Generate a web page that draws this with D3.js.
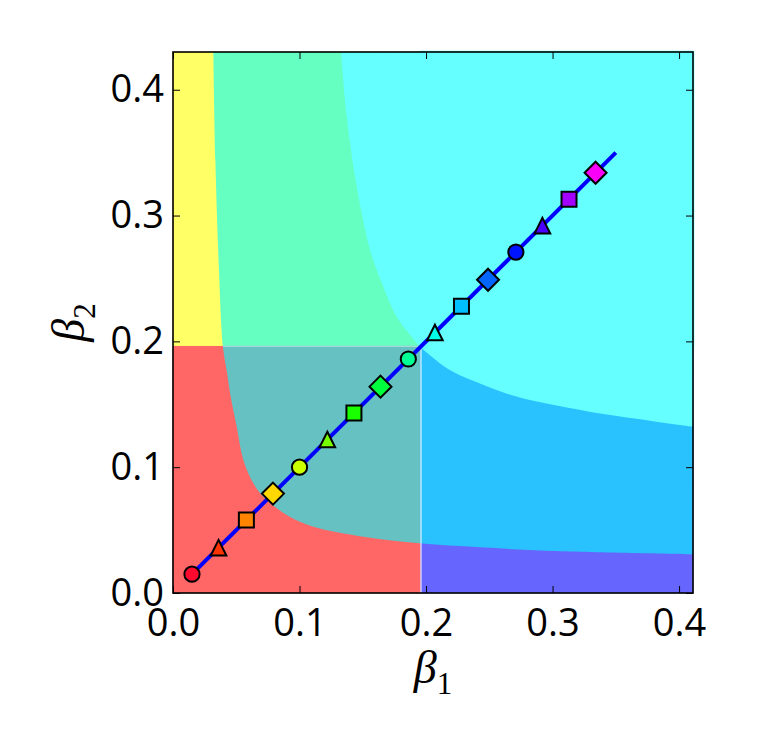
<!DOCTYPE html>
<html>
<head>
<meta charset="utf-8">
<script src="https://cdn.jsdelivr.net/npm/d3@7"></script>
<style>
  html, body { margin: 0; padding: 0; background: #fff; }
  .tick text { font-family: "Open Sans", sans-serif; font-size: 38px; fill: #000; }
</style>
</head>
<body>
<div id="chart"></div>
<script>
// ─── Data ─────────────────────────────────────────────────────────────────────
const beta1Ticks = [0.0, 0.1, 0.2, 0.3, 0.4];
const beta2Ticks = [0.0, 0.1, 0.2, 0.3, 0.4];
const beta1Max = 0.411;
const beta2Max = 0.430;
const split = 0.196;

// lower boundary (yellow|green, red|teal, purple|blue)
const lowerB1 = [0.0319, 0.0335, 0.0362, 0.0395, 0.0427, 0.0451, 0.0503, 0.0556, 0.0635, 0.0714, 0.0899, 0.111, 0.1504, 0.195, 0.243, 0.300, 0.411];
const lowerB2 = [0.430, 0.344, 0.260, 0.1956, 0.175, 0.1588, 0.1323, 0.1058, 0.0872, 0.0766, 0.062, 0.0527, 0.0448, 0.0395, 0.0363, 0.0334, 0.0308];

// upper boundary (green|cyan, blue|cyan)
const upperB1 = [0.1328, 0.1373, 0.1447, 0.1557, 0.165, 0.1768, 0.1926, 0.1955, 0.1988, 0.2195, 0.2465, 0.2728, 0.326, 0.377, 0.411];
const upperB2 = [0.430, 0.3785, 0.326, 0.2728, 0.2465, 0.2195, 0.1988, 0.1955, 0.1926, 0.1768, 0.165, 0.1557, 0.1447, 0.137, 0.1322];

// quadrants, in drawing order: top-left, bottom-left, bottom-right, top-right
const quadB1 = [[0, split], [0, split], [split, beta1Max], [split, beta1Max]];
const quadB2 = [[split, beta2Max], [0, split], [0, split], [split, beta2Max]];
const quadBase = ["#ffff66", "#ff6666", "#6666ff", "#66ffff"];
const quadAboveLower = ["#66ffc2", "#66c2c2", "#29c2ff", "#66ffff"];
const quadAboveUpper = ["#66ffff", "#66c2c2", "#66ffff", "#66ffff"];

// diagonal path and markers
const lineB1 = [0.015, 0.35];
const lineB2 = [0.015, 0.35];
const markerB1 = [0.015, 0.036, 0.058, 0.079, 0.100, 0.122, 0.143, 0.164, 0.186, 0.207, 0.228, 0.249, 0.271, 0.292, 0.313, 0.334];
const markerB2 = [0.015, 0.036, 0.058, 0.079, 0.100, 0.122, 0.143, 0.164, 0.186, 0.207, 0.228, 0.249, 0.271, 0.292, 0.313, 0.334];
const markerShapes = ["circle", "triangle", "square", "diamond"];
const markerColors = ["#ff0a2e", "#ff3300", "#ff8400", "#ffd800", "#ccff00", "#77ff00", "#1aff00", "#00ff3c",
                      "#00ff95", "#00ffe6", "#00bfff", "#0066ff", "#0014ff", "#4a00ff", "#a400ff", "#fa00f8"];

// ─── Chart ────────────────────────────────────────────────────────────────────
const W = 760, H = 752;
const margin = { top: 52, right: 67, bottom: 159, left: 173 };

const svg = d3.select("#chart").append("svg")
  .attr("width", W).attr("height", H);

const x = d3.scaleLinear().domain([0, beta1Max]).range([margin.left, W - margin.right]);
const y = d3.scaleLinear().domain([0, beta2Max]).range([H - margin.bottom, margin.top]);

const defs = svg.append("defs");
const curve = d3.line().x((d) => x(d[0])).y((d) => y(d[1])).curve(d3.curveCatmullRom.alpha(0.5));
const lowerPts = d3.zip(lowerB1, lowerB2);
const upperPts = d3.zip(upperB1, upperB2);
const above = (pts) => curve(pts) + `L${x(beta1Max) + 2},${y(beta2Max) - 2}Z`;

// regions; the all-cyan top-right patch goes last and a bit wider, hiding its seams
const regions = svg.append("g");
quadBase.forEach((c, i) => {
  const pad = i === 3 ? 1.5 : 0.6;
  const [a0, a1] = quadB1[i], [b0, b1] = quadB2[i];
  const rx = x(a0) - pad, ry = y(b1) - pad;
  const rw = x(a1) - x(a0) + 2 * pad, rh = y(b0) - y(b1) + 2 * pad;
  defs.append("clipPath").attr("id", `q${i}`).append("rect")
    .attr("x", rx).attr("y", ry).attr("width", rw).attr("height", rh);
  const g = regions.append("g").attr("clip-path", `url(#q${i})`);
  g.append("rect").attr("x", rx).attr("y", ry).attr("width", rw).attr("height", rh).attr("fill", c);
  if (i === 3) return;
  g.append("path").attr("d", above(lowerPts)).attr("fill", quadAboveLower[i]);
  g.append("path").attr("d", above(upperPts)).attr("fill", quadAboveUpper[i]);
});

// seams between patches
regions.append("line")
  .attr("x1", x(split)).attr("x2", x(split)).attr("y1", y(0)).attr("y2", y(split))
  .attr("stroke", "#fff").attr("stroke-opacity", 0.85).attr("stroke-width", 1.2);
regions.append("line")
  .attr("x1", x(0.0395)).attr("x2", x(split)).attr("y1", y(split)).attr("y2", y(split))
  .attr("stroke", "#fff").attr("stroke-opacity", 0.4).attr("stroke-width", 1.2);

// axes, ticks pointing inwards on all sides
const tick = 7;
const axB = svg.append("g").attr("transform", `translate(0,${y(0)})`)
  .call(d3.axisBottom(x).tickValues(beta1Ticks).tickFormat(d3.format(".1f")).tickSize(-tick).tickPadding(16));
const axT = svg.append("g").attr("transform", `translate(0,${y(beta2Max)})`)
  .call(d3.axisTop(x).tickValues(beta1Ticks).tickFormat("").tickSize(-tick));
const axL = svg.append("g").attr("transform", `translate(${x(0)},0)`)
  .call(d3.axisLeft(y).tickValues(beta2Ticks).tickFormat(d3.format(".1f")).tickSize(-tick).tickPadding(9));
const axR = svg.append("g").attr("transform", `translate(${x(beta1Max)},0)`)
  .call(d3.axisRight(y).tickValues(beta2Ticks).tickFormat("").tickSize(-tick));
[axB, axT, axL, axR].forEach((a) => {
  a.select(".domain").remove();
  a.selectAll(".tick line").attr("stroke", "#000").attr("stroke-width", 1);
});

// frame
svg.append("rect")
  .attr("x", x(0)).attr("y", y(beta2Max))
  .attr("width", x(beta1Max) - x(0)).attr("height", y(0) - y(beta2Max))
  .attr("fill", "none").attr("stroke", "#000").attr("stroke-width", 1.6);

// diagonal line
const line = d3.line().x((d) => x(d[0])).y((d) => y(d[1]));
svg.append("path").datum(d3.zip(lineB1, lineB2))
  .attr("d", line).attr("fill", "none")
  .attr("stroke", "#0000ff").attr("stroke-width", 4);

// markers
function markerPath(shape) {
  const p = d3.path();
  if (shape === "circle") {
    p.arc(0, 0, 7.6, 0, 2 * Math.PI);
  } else if (shape === "square") {
    p.rect(-7.5, -7.5, 15, 15);
  } else if (shape === "triangle") {
    p.moveTo(0, -7.8); p.lineTo(7.8, 7.8); p.lineTo(-7.8, 7.8); p.closePath();
  } else {
    p.moveTo(0, -11); p.lineTo(11, 0); p.lineTo(0, 11); p.lineTo(-11, 0); p.closePath();
  }
  return p.toString();
}
svg.append("g").selectAll("path")
  .data(d3.zip(markerB1, markerB2))
  .join("path")
  .attr("transform", (d) => `translate(${x(d[0])},${y(d[1])})`)
  .attr("d", (d, i) => markerPath(markerShapes[i % markerShapes.length]))
  .attr("fill", (d, i) => markerColors[i])
  .attr("stroke", "#000").attr("stroke-width", 2);

// axis labels
const xl = svg.append("text")
  .attr("x", (x(0) + x(beta1Max)) / 2).attr("y", 683)
  .attr("text-anchor", "middle")
  .style("font-family", "'Liberation Serif', serif");
xl.append("tspan").text("β").style("font-style", "italic").style("font-size", "46px");
xl.append("tspan").text("1").attr("dy", 11).style("font-size", "31px");

const yl = svg.append("text")
  .attr("transform", `translate(84,${(y(0) + y(beta2Max)) / 2}) rotate(-90)`)
  .attr("text-anchor", "middle")
  .style("font-family", "'Liberation Serif', serif");
yl.append("tspan").text("β").style("font-style", "italic").style("font-size", "46px");
yl.append("tspan").text("2").attr("dy", 11).style("font-size", "31px");
</script>
</body>
</html>
